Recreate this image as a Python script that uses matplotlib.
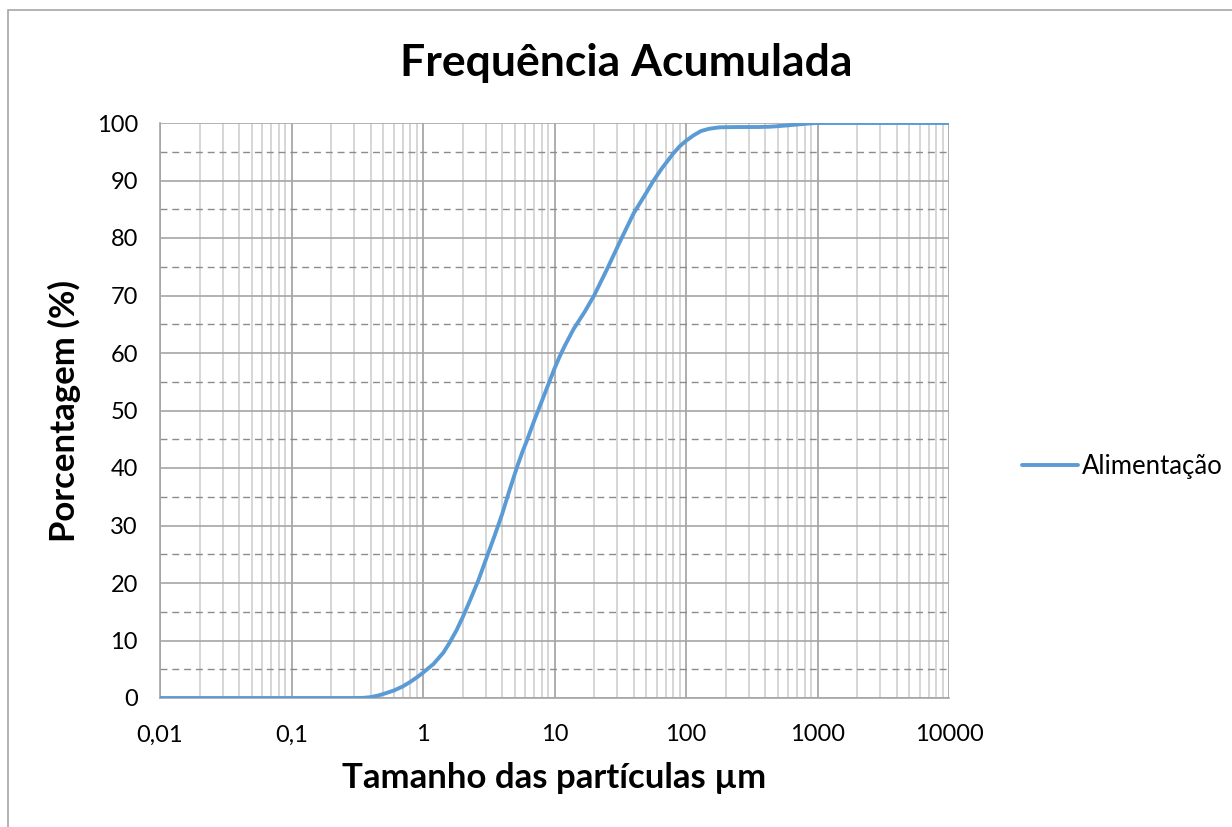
import numpy as np
import matplotlib
matplotlib.use('Agg')
import matplotlib.pyplot as plt
from matplotlib.ticker import FixedLocator, LogLocator, NullFormatter, MultipleLocator
from matplotlib.patches import Rectangle

# particle size (µm) and cumulative frequency (%)
tamanho = [0.01, 0.1, 0.3, 0.35, 0.4, 0.45, 0.5, 0.6, 0.7, 0.8, 0.9, 1.0,
           1.2, 1.43, 1.6, 1.8, 2.0, 2.3, 2.64, 3.0, 3.5, 4.0, 4.5, 5.16, 5.7, 6.15,
           7.0, 8.0, 9.0, 10, 11, 12, 14, 17, 20, 25, 31.5, 40, 50, 56, 65, 80, 90, 100,
           115, 130, 150, 180, 250, 350, 430, 500, 600, 750, 900, 1000, 10000]
acumulada = [0, 0, 0, 0.02, 0.15, 0.4, 0.7, 1.3, 2.0, 2.8, 3.6, 4.4,
             5.9, 7.9, 9.7, 11.8, 14.0, 17.2, 20.5, 24.0, 28.2, 32.0, 35.8, 40.0, 42.8, 44.7,
             48.2, 51.6, 54.6, 57.3, 59.5, 61.3, 64.2, 67.2, 70.0, 74.5, 79.4, 84.3, 87.9, 89.8,
             92.0, 94.7, 96.0, 96.9,
             97.9, 98.6, 99.0, 99.25, 99.3, 99.3, 99.35, 99.45, 99.6, 99.8, 99.95, 100, 100]

xticks = [0.01, 0.1, 1, 10, 100, 1000, 10000]
xticklabels = ['0,01', '0,1', '1', '10', '100', '1000', '10000']
yticks = list(range(0, 101, 10))

plt.rcParams['font.family'] = ['Lato', 'DejaVu Sans']

fig = plt.figure(figsize=(12.32, 8.27), dpi=100)
ax = fig.add_axes([160/1232, 1 - 698/827, (949 - 160)/1232, (698 - 123)/827])

# outer chart frame
fig.patches.append(Rectangle((8/1232, -0.1), 1.2, 1 - 10/827 + 0.1, transform=fig.transFigure,
                             fill=False, edgecolor='#A6A6A6', linewidth=1.2))

ax.plot(tamanho, acumulada, color='#5B9BD5', linewidth=2.8, label='Alimentação',
        solid_capstyle='round', solid_joinstyle='round', zorder=5)

ax.set_xscale('log')
ax.set_xlim(0.01, 10000)
ax.set_ylim(0, 100)

ax.xaxis.set_major_locator(FixedLocator(xticks))
ax.set_xticklabels(xticklabels)
ax.xaxis.set_minor_locator(LogLocator(base=10, subs=np.arange(2, 10), numticks=20))
ax.xaxis.set_minor_formatter(NullFormatter())
ax.set_yticks(yticks)
ax.yaxis.set_minor_locator(MultipleLocator(5))

ax.grid(which='major', axis='x', color='#A0A0A0', linewidth=1.2)
ax.grid(which='minor', axis='x', color='#D0D0D0', linewidth=1.2)
ax.grid(which='major', axis='y', color='#A6A6A6', linewidth=1.2)
ax.grid(which='minor', axis='y', color='#8C8C8C', linewidth=1.0, linestyle=(0, (5, 3.5)))
ax.set_axisbelow(True)

ax.tick_params(which='both', length=0, labelsize=17, colors='black')
ax.tick_params(axis='y', pad=16)
ax.tick_params(axis='x', pad=19)
for s in ['top', 'right']:
    ax.spines[s].set_visible(False)
for s in ['left', 'bottom']:
    ax.spines[s].set_color('#A6A6A6')
    ax.spines[s].set_linewidth(1.2)

fig.text(626/1232, 1 - 63/827, 'Frequência Acumulada', fontsize=32, fontweight='bold',
         ha='center', va='center')
ax.set_xlabel('Tamanho das partículas µm', fontsize=25, fontweight='bold', labelpad=12)
ax.set_ylabel('Porcentagem (%)', fontsize=25, fontweight='bold', labelpad=11)

ax.legend(loc='center left', bbox_to_anchor=(1.092, 0.403), frameon=False, fontsize=18.5,
          handlelength=2.2, handletextpad=0.15, borderpad=0, borderaxespad=0)

fig.savefig('out.png', dpi=100)
